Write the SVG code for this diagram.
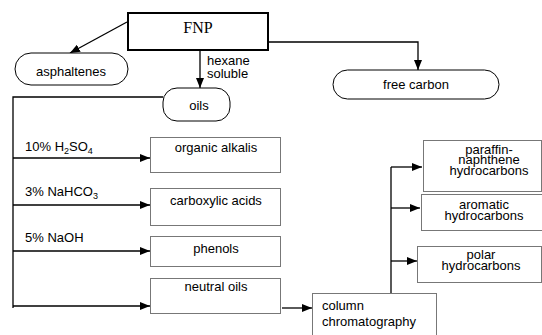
<svg xmlns="http://www.w3.org/2000/svg" width="542" height="335" viewBox="0 0 542 335">
<defs>
<marker id="ah" markerWidth="10" markerHeight="8" refX="10" refY="4" orient="auto" markerUnits="userSpaceOnUse">
<path d="M0,0 L10,4 L0,8 Z" fill="#000"/>
</marker>
<style>
.box{fill:#fff;stroke:#777;stroke-width:1}
.pill{fill:#fff;stroke:#000;stroke-width:1}
.t{font-family:"Liberation Sans",Arial,sans-serif;font-size:13px;fill:#000}
.c{text-anchor:middle}
.ln{fill:none;stroke:#000;stroke-width:1.3}
.ar{fill:none;stroke:#000;stroke-width:1.3;marker-end:url(#ah)}
</style>
</defs>
<rect width="542" height="335" fill="#fff"/>
<g id="connectors">
<path class="ar" d="M127,22 L70,53"/>
<path class="ar" d="M200,50 L200,88"/>
<path class="ar" d="M268,42 L418,42 L418,70"/>
<path class="ln" d="M163,97 L13,97 L13,308"/>
<path class="ar" d="M13,158 L150,158"/>
<path class="ar" d="M13,205 L150,205"/>
<path class="ar" d="M13,251 L150,251"/>
<path class="ar" d="M13,306 L150,306"/>
<path class="ar" d="M282,308 L312,308"/>
<path class="ln" d="M391,293 L391,167"/>
<path class="ar" d="M391,167 L422,167"/>
<path class="ar" d="M391,208 L420,208"/>
<path class="ar" d="M391,261 L417,261"/>
<text class="t" x="207" y="65">hexane</text>
<text class="t" x="207" y="78">soluble</text>
<text class="t" x="25" y="151">10% H<tspan font-size="9" dy="2.5">2</tspan><tspan dy="-2.5">SO</tspan><tspan font-size="9" dy="2.5">4</tspan></text>
<text class="t" x="25" y="196">3% NaHCO<tspan font-size="9" dy="2.5">3</tspan></text>
<text class="t" x="25" y="242">5% NaOH</text>
</g>
<g id="fnp">
<rect x="128" y="13" width="140" height="37" fill="#fff" stroke="#000" stroke-width="2"/>
<text x="198" y="33" text-anchor="middle" font-family="'Liberation Serif','Times New Roman',serif" font-size="16">FNP</text>
</g>
<g id="asphaltenes">
<rect class="pill" x="15" y="53" width="113" height="32" rx="16"/>
<text class="t c" x="71" y="76">asphaltenes</text>
</g>
<g id="oils">
<rect class="pill" x="163" y="88" width="67" height="33" rx="14"/>
<text class="t c" x="199" y="110">oils</text>
</g>
<g id="free-carbon">
<rect class="pill" x="333" y="70" width="166" height="29" rx="14.5"/>
<text class="t c" x="416" y="89">free carbon</text>
</g>
<g id="organic-alkalis">
<rect class="box" x="150.5" y="137.5" width="130" height="35"/>
<text class="t c" x="216" y="152">organic alkalis</text>
</g>
<g id="carboxylic-acids">
<rect class="box" x="150.5" y="188.5" width="130" height="37"/>
<text class="t c" x="216" y="205">carboxylic acids</text>
</g>
<g id="phenols">
<rect class="box" x="150.5" y="236.5" width="130" height="30"/>
<text class="t c" x="216" y="253">phenols</text>
</g>
<g id="neutral-oils">
<rect class="box" x="150.5" y="278.5" width="130" height="35"/>
<text class="t c" x="216" y="291">neutral oils</text>
</g>
<g id="column-chromatography">
<rect class="box" x="312.5" y="293.5" width="124" height="50"/>
<text class="t" x="322" y="310">column</text>
<text class="t" x="322" y="326">chromatography</text>
</g>
<g id="paraffin">
<rect class="box" x="423.5" y="140.5" width="118" height="51"/>
<text class="t c" x="489" y="153.5">paraffin-</text>
<text class="t c" x="489" y="164">naphthene</text>
<text class="t c" x="489" y="174.5">hydrocarbons</text>
</g>
<g id="aromatic">
<rect class="box" x="421.5" y="194.5" width="121" height="36"/>
<text class="t c" x="484" y="209">aromatic</text>
<text class="t c" x="484" y="220">hydrocarbons</text>
</g>
<g id="polar">
<rect class="box" x="417.5" y="246.5" width="124" height="36"/>
<text class="t c" x="481" y="259">polar</text>
<text class="t c" x="481" y="270">hydrocarbons</text>
</g>
</svg>
